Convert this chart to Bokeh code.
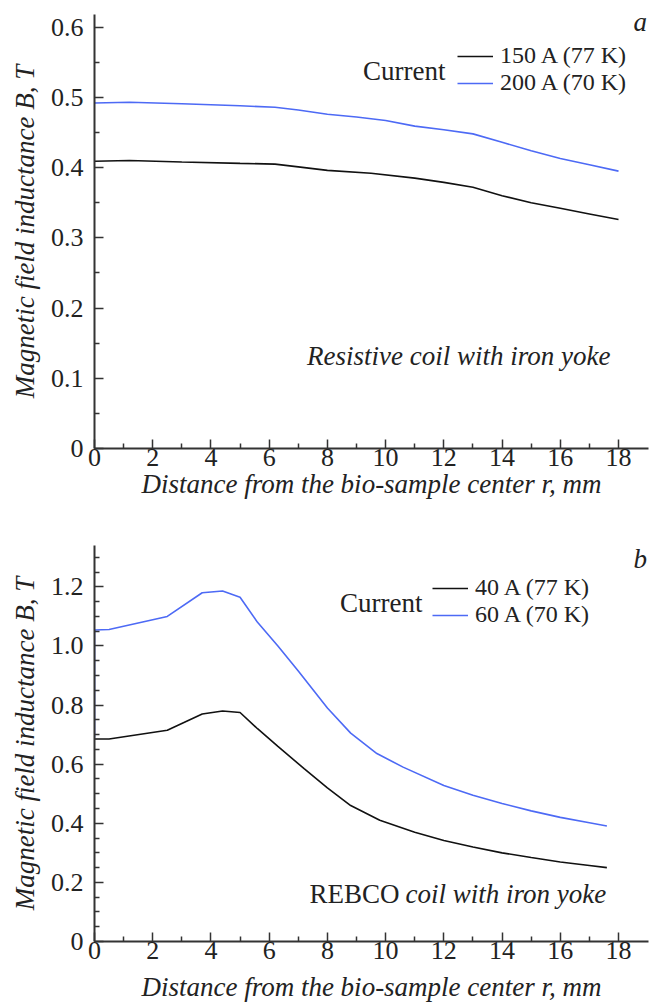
from bokeh.plotting import figure
from bokeh.models import Range1d, FixedTicker, Label, Legend, LegendItem, NumeralTickFormatter
from bokeh.layouts import column
from bokeh.embed import file_html
from bokeh.resources import INLINE

# ---------------- data: panel a (resistive coil) ----------------
r_a_150 = [0, 1.2, 3.0, 5.0, 6.2, 7.0, 8.0, 9.5, 11.0, 12.0, 13.0, 14.0, 15.0, 16.0, 17.0, 18.0]
B_a_150 = [0.409, 0.410, 0.408, 0.406, 0.405, 0.401, 0.396, 0.392, 0.385, 0.379, 0.372, 0.360, 0.350, 0.342, 0.334, 0.326]
r_a_200 = [0, 1.2, 3.0, 5.0, 6.2, 7.0, 8.0, 9.0, 10.0, 11.0, 12.0, 13.0, 14.0, 15.0, 16.0, 17.0, 18.0]
B_a_200 = [0.492, 0.493, 0.491, 0.488, 0.486, 0.482, 0.476, 0.472, 0.467, 0.459, 0.454, 0.448, 0.436, 0.424, 0.413, 0.404, 0.395]

# ---------------- data: panel b (REBCO coil) ----------------
r_b_40 = [0, 0.5, 2.5, 3.7, 4.4, 5.0, 5.6, 6.3, 7.2, 8.0, 8.8, 9.8, 11.0, 12.0, 13.0, 14.0, 15.0, 16.0, 17.0, 17.6]
B_b_40 = [0.685, 0.685, 0.715, 0.770, 0.780, 0.775, 0.720, 0.660, 0.585, 0.520, 0.460, 0.410, 0.370, 0.342, 0.320, 0.300, 0.284, 0.269, 0.257, 0.250]
r_b_60 = [0, 0, 0.5, 2.5, 3.7, 4.4, 5.0, 5.6, 6.3, 7.0, 8.0, 8.8, 9.7, 10.6, 12.0, 13.0, 14.0, 15.0, 16.0, 17.0, 17.6]
B_b_60 = [0.690, 1.054, 1.056, 1.100, 1.180, 1.186, 1.165, 1.080, 1.000, 0.915, 0.790, 0.705, 0.636, 0.590, 0.528, 0.495, 0.467, 0.442, 0.420, 0.402, 0.391]

labels_a = ["150 A (77 K)", "200 A (70 K)"]
labels_b = ["40 A (77 K)", "60 A (70 K)"]

x_ticks = [0, 2, 4, 6, 8, 10, 12, 14, 16, 18]
x_minor = [1, 3, 5, 7, 9, 11, 13, 15, 17]
ya_ticks = [0, 0.1, 0.2, 0.3, 0.4, 0.5, 0.6]
ya_minor = [0.05, 0.15, 0.25, 0.35, 0.45, 0.55]
yb_ticks = [0, 0.2, 0.4, 0.6, 0.8, 1.0, 1.2]
yb_minor = [0.05, 0.1, 0.15, 0.25, 0.3, 0.35, 0.45, 0.5, 0.55, 0.65, 0.7, 0.75,
            0.85, 0.9, 0.95, 1.05, 1.1, 1.15, 1.25, 1.3]

X_TITLE = "Distance from the bio-sample center r, mm"
Y_TITLE = "Magnetic field inductance B, T"

FONT = "Liberation Serif"
TXT = "#222222"
BLACK = "#111111"
BLUE = "#4d6af5"
FS = "27px"      # titles, annotations
FS_LEG = "24px"  # legend entries
FS_TICK = "26px"


def lab(p, x, y, text, style="normal", align="left"):
    p.add_layout(Label(x=x, y=y, x_units="screen", y_units="screen", text=text,
                       text_font=FONT, text_font_size=FS, text_font_style=style,
                       text_color=TXT, text_align=align, text_baseline="middle"))


def make_panel(height, btop, bbot, yend, yticks, yminor, series, labels,
               legend_pos, current_xy, letter, letter_xy, xlab_standoff):
    p = figure(width=656, height=height, x_range=Range1d(0, 19.03),
               y_range=Range1d(0, yend), output_backend="svg", toolbar_location=None,
               min_border_left=94, min_border_right=8, min_border_top=btop,
               min_border_bottom=bbot)
    p.outline_line_color = None
    p.xgrid.visible = False
    p.ygrid.visible = False
    p.background_fill_color = "white"
    p.xaxis.ticker = FixedTicker(ticks=x_ticks, minor_ticks=x_minor)
    p.yaxis.ticker = FixedTicker(ticks=yticks, minor_ticks=yminor)
    p.yaxis.formatter = NumeralTickFormatter(format="0.0")
    p.yaxis.major_label_overrides = {0: "0"}
    for ax in (p.xaxis[0], p.yaxis[0]):
        ax.axis_line_width = 2
        ax.axis_line_color = "#333333"
        ax.major_tick_in = 9
        ax.major_tick_out = 0
        ax.minor_tick_in = 5
        ax.minor_tick_out = 0
        ax.major_tick_line_width = 1.5
        ax.minor_tick_line_width = 1.5
        ax.major_tick_line_color = "#333333"
        ax.minor_tick_line_color = "#333333"
        ax.major_label_text_font = FONT
        ax.major_label_text_font_size = FS_TICK
        ax.major_label_text_color = TXT
        ax.axis_label_text_font = FONT
        ax.axis_label_text_font_size = FS
        ax.axis_label_text_font_style = "italic"
        ax.axis_label_text_color = TXT
    p.xaxis.axis_label = X_TITLE
    p.yaxis.axis_label = Y_TITLE
    p.xaxis.major_label_standoff = 0
    p.xaxis.axis_label_standoff = xlab_standoff
    p.yaxis.major_label_standoff = 11
    p.yaxis.axis_label_standoff = 8

    for (xs, ys, col), text, loc in zip(series, labels, legend_pos):
        r = p.line(xs, ys, line_color=col, line_width=1.6)
        leg = Legend(items=[LegendItem(label=text, renderers=[r])],
                     location=loc, glyph_width=36, glyph_height=20, label_height=20,
                     label_standoff=7, spacing=0, padding=0, margin=0,
                     border_line_alpha=0, background_fill_alpha=0,
                     label_text_font=FONT, label_text_font_size=FS_LEG, label_text_color=TXT)
        p.add_layout(leg)

    lab(p, current_xy[0], current_xy[1], "Current", align="right")
    lab(p, letter_xy[0], letter_xy[1], letter, style="italic")
    return p


pa = make_panel(503, 14, 55, 0.618, ya_ticks, ya_minor,
                [(r_a_150, B_a_150, BLACK), (r_a_200, B_a_200, BLUE)], labels_a,
                [(363, 379), (363, 352)], (351, 378), "a", (539, 427), 0)
lab(pa, 516, 93, "Resistive coil with iron yoke", style="italic", align="right")

pb = make_panel(501, 42, 63, 1.34, yb_ticks, yb_minor,
                [(r_b_40, B_b_40, BLACK), (r_b_60, B_b_60, BLUE)], labels_b,
                [(338, 340), (338, 313)], (328, 339), "b", (539, 383), 10)
lab(pb, 305, 48, "REBCO", align="right")
lab(pb, 311, 48, "coil with iron yoke", style="italic", align="left")

layout = column(pa, pb, spacing=0)
open("out.html", "w").write(file_html(layout, INLINE))
